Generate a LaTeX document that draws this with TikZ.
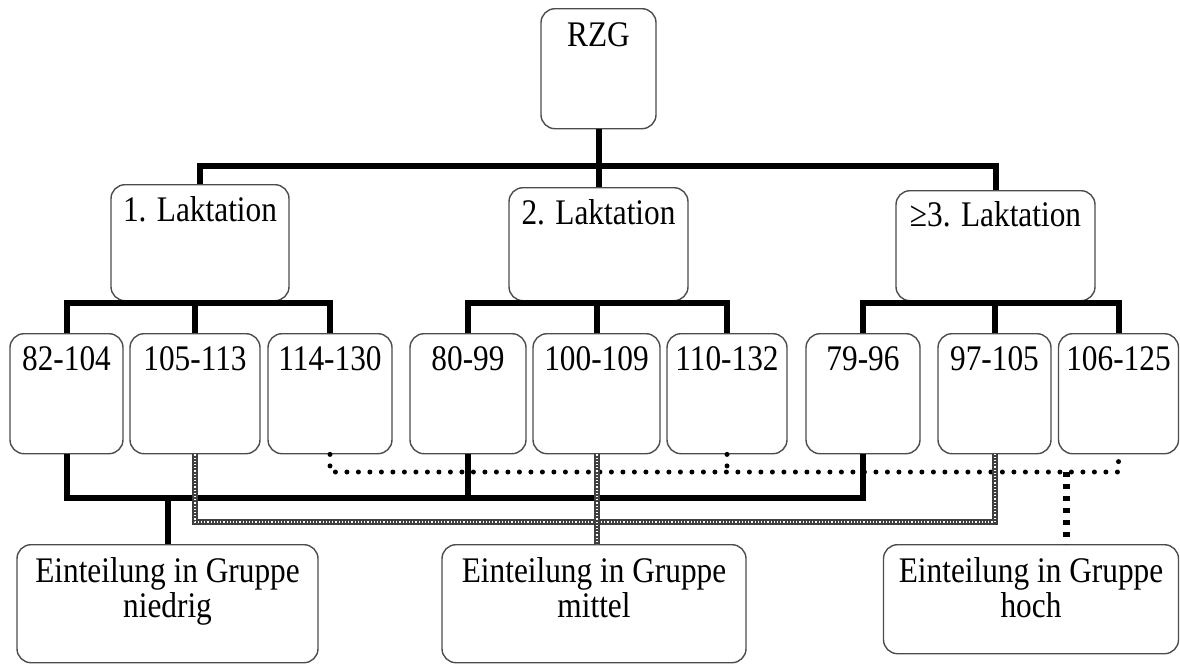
\documentclass[tikz,border=0pt]{standalone}
\usepackage{fontspec}
\setmainfont{Liberation Serif}[FakeStretch=0.87]
\usetikzlibrary{calc}
\tikzset{
  box/.style={draw=black!70, line width=1.4pt, rounded corners=14pt, inner sep=0pt, anchor=north},
  leaf/.style={box, text height=37pt, text depth=83pt},
  group/.style={box, align=flush center, text height=38pt, text depth=80pt},
  bus/.style={line width=6pt},
  hatchline/.style={draw=black!75, line width=6pt,
    postaction={draw=white, line width=2pt, dash pattern=on 1.2pt off 2pt}},
  dotline/.style={line width=5pt, line cap=round, dash pattern=on 0pt off 11.5pt},
  bigdotline/.style={line width=7pt, dash pattern=on 5pt off 7pt}
}

\begin{document}
\begin{tikzpicture}[x=1pt,y=-1pt,font=\fontsize{36}{35}\selectfont]
  \useasboundingbox (0,0) rectangle (1180,664);

  % root and lactation boxes
  \node[box,minimum width=115pt,text height=38pt,text depth=82pt] (rzg) at (598.5,8) {RZG};
  \node[box,minimum width=178pt,text height=37pt,text depth=79pt] (lak1) at (200,184) {1. Laktation};
  \node[box,minimum width=179pt,text height=37pt,text depth=76pt] (lak2) at (598.5,187) {2. Laktation};
  \node[box,minimum width=199pt,text height=36pt,text depth=74pt] (lak3) at (995.5,190) {≥3. Laktation};

  % RZG classes
  \node[leaf,minimum width=113pt] (l11) at (66.5,333) {82-104};
  \node[leaf,minimum width=130pt] (l12) at (195,333) {105-113};
  \node[leaf,minimum width=124pt] (l13) at (330,333) {114-130};
  \node[leaf,minimum width=116pt] (l21) at (468,333) {80-99};
  \node[leaf,minimum width=127pt] (l22) at (596.5,333) {100-109};
  \node[leaf,minimum width=120pt] (l23) at (727,333) {110-132};
  \node[leaf,minimum width=114pt] (l31) at (863,333) {79-96};
  \node[leaf,minimum width=113pt] (l32) at (994.5,333) {97-105};
  \node[leaf,minimum width=120pt] (l33) at (1118.5,333) {106-125};

  % groups
  \node[group,text width=301pt] (gNied) at (167.5,544) {Einteilung in Gruppe\\niedrig};
  \node[group,text width=304pt] (gMit) at (594,544) {Einteilung in Gruppe\\mittel};
  \node[group,text width=295pt,text depth=71pt] (gHoch) at (1031,544) {Einteilung in Gruppe\\hoch};

  \coordinate (bar1) at (0,166);
  \coordinate (bar2) at (0,303);
  \coordinate (barLow) at (0,498);
  \coordinate (barMid) at (0,522);
  \coordinate (barHigh) at (0,472);
  \coordinate (hochDrop) at (1066,472);

  % tree
  \draw[bus] (rzg.south) -- (lak2.north);
  \draw[bus] (lak1.north) -- (lak1.north |- bar1) -| (lak3.north);
  \draw[bus] (l11.north) -- (l11.north |- bar2) -| (l13.north);
  \draw[bus] (l12.north) -- (l12.north |- bar2);
  \draw[bus] (l21.north) -- (l21.north |- bar2) -| (l23.north);
  \draw[bus] (lak2.south) -- (lak2.south |- bar2);
  \draw[bus] (l22.north) -- (l22.north |- bar2);
  \draw[bus] (l31.north) -- (l31.north |- bar2) -| (l33.north);
  \draw[bus] (l32.north) -- (l32.north |- bar2);

  % group hoch
  \draw[dotline] (l13.south) -- (l13.south |- barHigh) -| (l33.south);
  \draw[dotline] (l23.south) -- (l23.south |- barHigh);
  \draw[bigdotline] (hochDrop) -- (hochDrop |- gHoch.north);

  % group niedrig
  \draw[bus] (l11.south) -- (l11.south |- barLow) -| (l31.south);
  \draw[bus] (l21.south) -- (l21.south |- barLow);
  \draw[bus] (gNied.north) -- (gNied.north |- barLow);

  % group mittel
  \draw[hatchline] (l12.south) -- (l12.south |- barMid) -| (l32.south);
  \draw[hatchline] (l22.south) -- (l22.south |- gMit.north);
\end{tikzpicture}
\end{document}
